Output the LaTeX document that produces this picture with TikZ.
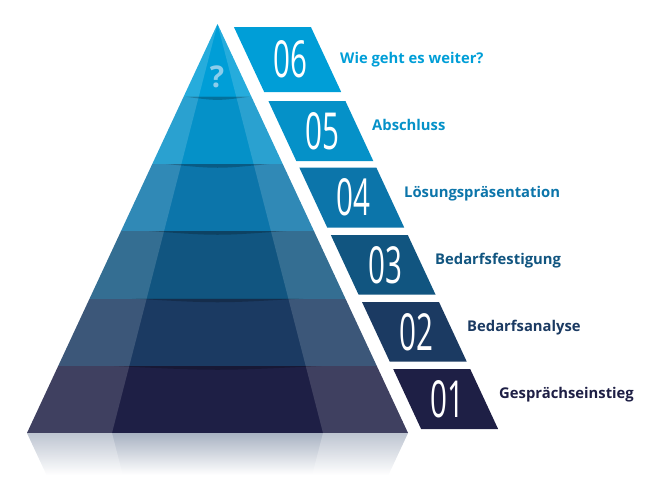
\documentclass[tikz,border=0pt]{standalone}
\usepackage{fontspec}
\setmainfont{Open Sans}
\newfontfamily\nrfont[FakeStretch=0.58]{Open Sans}
\definecolor{stufe6}{RGB}{0,158,215}
\definecolor{stufe5}{RGB}{5,145,200}
\definecolor{stufe4}{RGB}{12,117,170}
\definecolor{stufe3}{RGB}{17,85,128}
\definecolor{stufe2}{RGB}{27,58,98}
\definecolor{stufe1}{RGB}{30,31,69}
\definecolor{frage}{RGB}{140,205,235}
\definecolor{spiegel}{RGB}{168,178,194}
\tikzset{nummer/.style={text=white,inner sep=0pt,font=\nrfont\fontsize{51}{51}\selectfont},
  stufe/.style={anchor=base west,inner sep=0pt,font=\bfseries\fontsize{14.8}{15}\selectfont}}

\begin{document}
\begin{tikzpicture}[x=1pt,y=-1pt]
\useasboundingbox (0,0) rectangle (650,501);
% Spiegelung
\shade [top color=spiegel,bottom color=white] (27,433) -- (408,433) -- (388.4,475) -- (46.6,475) -- cycle;
\fill [white,opacity=0.25] (27,433) -- (112,433) -- (122.8,475) -- (46.6,475) -- cycle;
\fill [white,opacity=0.25] (323,433) -- (408,433) -- (388.4,475) -- (312.2,475) -- cycle;
% Pyramide
\begin{scope}
\clip (217.5,24) -- (408,433) -- (27,433) -- cycle;
\fill [stufe6] (0,0) rectangle (650,96.5);
\fill [stufe5] (0,96.5) rectangle (650,164);
\fill [stufe4] (0,164) rectangle (650,231);
\fill [stufe3] (0,231) rectangle (650,298.5);
\fill [stufe2] (0,298.5) rectangle (650,366);
\fill [stufe1] (0,366) rectangle (650,433);
\fill [white,opacity=0.15] (217.5,24) -- (27,433) -- (112,433) -- cycle;
\fill [white,opacity=0.15] (217.5,24) -- (408,433) -- (323,433) -- cycle;
\fill [black,opacity=0.22] (184,96.5) .. controls (217.5,101) .. (251,96.5) -- cycle;
\fill [black,opacity=0.22] (166,164) .. controls (217.5,169) .. (269,164) -- cycle;
\fill [black,opacity=0.22] (149,231) .. controls (217.5,236) .. (286,231) -- cycle;
\fill [black,opacity=0.22] (132,298.5) .. controls (217.5,303.5) .. (303,298.5) -- cycle;
\fill [black,opacity=0.22] (114,366) .. controls (217.5,371) .. (321,366) -- cycle;
\end{scope}
\node [text=frage,inner sep=0pt,font=\bfseries\fontsize{30}{30}\selectfont] (frage) at (217,76.5) {?};
% Stufen
\fill [stufe6] (233.9,27) -- ++(77,0) -- ++(30.3,65) -- ++(-77,0) -- cycle;
\fill [stufe5] (268.4,101) -- ++(77,0) -- ++(27.9,60) -- ++(-77,0) -- cycle;
\fill [stufe4] (299.3,167.5) -- ++(77,0) -- ++(27.9,60) -- ++(-77,0) -- cycle;
\fill [stufe3] (330.8,235) -- ++(77,0) -- ++(27.7,59.5) -- ++(-77,0) -- cycle;
\fill [stufe2] (362,302) -- ++(77,0) -- ++(27.7,59.5) -- ++(-77,0) -- cycle;
\fill [stufe1] (393.2,369) -- ++(77,0) -- ++(27.9,60) -- ++(-77,0) -- cycle;
\node [nummer] (nr6) at (290,59.5) {06};
\node [nummer] (nr5) at (322.9,131) {05};
\node [nummer] (nr4) at (353.8,197.5) {04};
\node [nummer] (nr3) at (385.1,264.8) {03};
\node [nummer] (nr2) at (416.4,331.8) {02};
\node [nummer] (nr1) at (447.7,399) {01};
\node [stufe,text=stufe6] (txt6) at (340,63.5) {Wie geht es weiter?};
\node [stufe,text=stufe5] (txt5) at (372,130.5) {Abschluss};
\node [stufe,text=stufe4] (txt4) at (404,197) {Lösungspräsentation};
\node [stufe,text=stufe3] (txt3) at (435,264) {Bedarfsfestigung};
\node [stufe,text=stufe2] (txt2) at (467,331) {Bedarfsanalyse};
\node [stufe,text=stufe1] (txt1) at (499,398) {Gesprächseinstieg};
\end{tikzpicture}
\end{document}
